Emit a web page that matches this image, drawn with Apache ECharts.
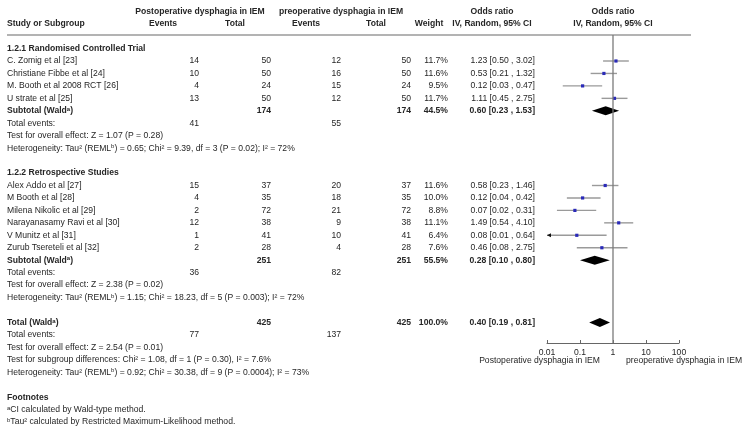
<!DOCTYPE html>
<html>
<head>
<meta charset="utf-8">
<script src="https://cdn.jsdelivr.net/npm/echarts@6/dist/echarts.min.js"></script>
<style>
  html, body { margin: 0; padding: 0; background: #fff; }
  #chart { width: 750px; height: 438px; }
</style>
</head>
<body>
<div id="chart"></div>
<script>
// Randomised controlled trials
const rctStudies = ['C. Zomig et al [23]', 'Christiane Fibbe et al [24]', 'M. Booth et al 2008 RCT [26]', 'U strate et al [25]']
const rctPostEvents = [14, 10, 4, 13]
const rctPostTotal = [50, 50, 24, 50]
const rctPreEvents = [12, 16, 15, 12]
const rctPreTotal = [50, 50, 24, 50]
const rctWeight = ['11.7%', '11.6%', '9.5%', '11.7%']
const rctOR = [1.23, 0.53, 0.12, 1.11]
const rctLow = [0.50, 0.21, 0.03, 0.45]
const rctHigh = [3.02, 1.32, 0.47, 2.75]

// Retrospective studies
const retroStudies = ['Alex Addo et al [27]', 'M Booth et al [28]', 'Milena Nikolic et al [29]', 'Narayanasamy Ravi et al [30]', 'V Munitz et al [31]', 'Zurub Tsereteli et al [32]']
const retroPostEvents = [15, 4, 2, 12, 1, 2]
const retroPostTotal = [37, 35, 72, 38, 41, 28]
const retroPreEvents = [20, 18, 21, 9, 10, 4]
const retroPreTotal = [37, 35, 72, 38, 41, 28]
const retroWeight = ['11.6%', '10.0%', '8.8%', '11.1%', '6.4%', '7.6%']
const retroOR = [0.58, 0.12, 0.07, 1.49, 0.08, 0.46]
const retroLow = [0.23, 0.04, 0.02, 0.54, 0.01, 0.08]
const retroHigh = [1.46, 0.42, 0.31, 4.10, 0.64, 2.75]

// pooled rows: RCT subtotal, retrospective subtotal, overall total
const pooledLabel = ['Subtotal (Wald{sa|a})', 'Subtotal (Wald{sa|a})', 'Total (Wald{sa|a})']
const pooledPostTotal = [174, 251, 425]
const pooledPreTotal = [174, 251, 425]
const pooledWeight = ['44.5%', '55.5%', '100.0%']
const pooledOR = [0.60, 0.28, 0.40]
const pooledLow = [0.23, 0.10, 0.19]
const pooledHigh = [1.53, 0.80, 0.81]
const totalEventsPost = [41, 36, 77]
const totalEventsPre = [55, 82, 137]

const axisTicks = [0.01, 0.1, 1, 10, 100]

// layout: text rows
const Y0 = 11.2
const ROW = 12.45
const rowY = k => Y0 + k * ROW
const FONT = "'Liberation Sans', Arial, sans-serif"
const FS = 8.6
const SUP = 6
const INK = '#262626'
const colX = { study: 7, postEv: 199, postTot: 271, preEv: 341, preTot: 411, weight: 448, or: 535 }

function fmt(v) { return v.toFixed(2) }
function orText(o, l, h) { return `${fmt(o)} [${fmt(l)} , ${fmt(h)}]` }

const texts = []
function txt(x, k, text, align, bold) {
  const w = bold ? 'bold' : 'normal'
  texts.push({
    type: 'text', silent: true,
    style: {
      x, y: rowY(k), text: String(text),
      fontFamily: FONT, fontSize: FS, fontWeight: w, fill: INK,
      align: align || 'left', textAlign: align || 'left',
      verticalAlign: 'middle', textVerticalAlign: 'middle',
      rich: {
        sa: { fontFamily: FONT, fontSize: SUP, fontWeight: w, fill: INK, verticalAlign: 'top' }
      }
    }
  })
}

// headers
txt(200, 0, 'Postoperative dysphagia in IEM', 'center', true)
txt(341, 0, 'preoperative dysphagia in IEM', 'center', true)
txt(492, 0, 'Odds ratio', 'center', true)
txt(613, 0, 'Odds ratio', 'center', true)
txt(colX.study, 1, 'Study or Subgroup', 'left', true)
txt(163, 1, 'Events', 'center', true)
txt(235, 1, 'Total', 'center', true)
txt(306, 1, 'Events', 'center', true)
txt(376, 1, 'Total', 'center', true)
txt(429, 1, 'Weight', 'center', true)
txt(492, 1, 'IV, Random, 95% CI', 'center', true)
txt(613, 1, 'IV, Random, 95% CI', 'center', true)

const forestRows = []
function studyBlock(startK, names, pe, pt, re, rt, wt, or, lo, hi) {
  names.forEach((n, i) => {
    const k = startK + i
    txt(colX.study, k, n)
    txt(colX.postEv, k, pe[i], 'right')
    txt(colX.postTot, k, pt[i], 'right')
    txt(colX.preEv, k, re[i], 'right')
    txt(colX.preTot, k, rt[i], 'right')
    txt(colX.weight, k, wt[i], 'right')
    txt(colX.or, k, orText(or[i], lo[i], hi[i]), 'right')
    forestRows.push([lo[i], hi[i], or[i], k])
  })
}
const pooledRows = []
function pooledBlock(k, j) {
  txt(colX.study, k, pooledLabel[j], 'left', true)
  txt(colX.postTot, k, pooledPostTotal[j], 'right', true)
  txt(colX.preTot, k, pooledPreTotal[j], 'right', true)
  txt(colX.weight, k, pooledWeight[j], 'right', true)
  txt(colX.or, k, orText(pooledOR[j], pooledLow[j], pooledHigh[j]), 'right', true)
  txt(colX.study, k + 1, 'Total events:')
  txt(colX.postEv, k + 1, totalEventsPost[j], 'right')
  txt(colX.preEv, k + 1, totalEventsPre[j], 'right')
  pooledRows.push([pooledLow[j], pooledHigh[j], pooledOR[j], k])
}

txt(colX.study, 3, '1.2.1 Randomised Controlled Trial', 'left', true)
studyBlock(4, rctStudies, rctPostEvents, rctPostTotal, rctPreEvents, rctPreTotal, rctWeight, rctOR, rctLow, rctHigh)
pooledBlock(8, 0)
txt(colX.study, 10, 'Test for overall effect: Z = 1.07 (P = 0.28)')
txt(colX.study, 11, 'Heterogeneity: Tau² (REML{sa|b}) = 0.65; Chi² = 9.39, df = 3 (P = 0.02); I² = 72%')

txt(colX.study, 13, '1.2.2 Retrospective Studies', 'left', true)
studyBlock(14, retroStudies, retroPostEvents, retroPostTotal, retroPreEvents, retroPreTotal, retroWeight, retroOR, retroLow, retroHigh)
pooledBlock(20, 1)
txt(colX.study, 22, 'Test for overall effect: Z = 2.38 (P = 0.02)')
txt(colX.study, 23, 'Heterogeneity: Tau² (REML{sa|b}) = 1.15; Chi² = 18.23, df = 5 (P = 0.003); I² = 72%')

pooledBlock(25, 2)
txt(colX.study, 27, 'Test for overall effect: Z = 2.54 (P = 0.01)')
txt(colX.study, 28, 'Test for subgroup differences: Chi² = 1.08, df = 1 (P = 0.30), I² = 7.6%')
txt(colX.study, 29, 'Heterogeneity: Tau² (REML{sa|b}) = 0.92; Chi² = 30.38, df = 9 (P = 0.0004); I² = 73%')

txt(colX.study, 31, 'Footnotes', 'left', true)
txt(colX.study, 32, '{sa|a}CI calculated by Wald-type method.')
txt(colX.study, 33, '{sa|b}Tau² calculated by Restricted Maximum-Likelihood method.')

// header rule
texts.push({
  type: 'line', silent: true,
  shape: { x1: 7, y1: 35, x2: 691, y2: 35 },
  style: { stroke: '#9a9a9a', lineWidth: 1.5 }
})
// axis side captions
texts.push({
  type: 'text', silent: true,
  style: { x: 600, y: 361, text: 'Postoperative dysphagia in IEM', fontFamily: FONT, fontSize: FS, fill: INK, align: 'right', textAlign: 'right', verticalAlign: 'middle', textVerticalAlign: 'middle' }
})
texts.push({
  type: 'text', silent: true,
  style: { x: 626, y: 361, text: 'preoperative dysphagia in IEM', fontFamily: FONT, fontSize: FS, fill: INK, align: 'left', textAlign: 'left', verticalAlign: 'middle', textVerticalAlign: 'middle' }
})

const GRID_TOP = 35
const GRID_BOTTOM = 343
const X_MIN = axisTicks[0]
const X_MAX = axisTicks[axisTicks.length - 1]

const chart = echarts.init(document.getElementById('chart'), null, { renderer: 'canvas' })
chart.setOption({
  animation: false,
  backgroundColor: '#fff',
  grid: { left: 547, top: GRID_TOP, width: 132, height: GRID_BOTTOM - GRID_TOP, containLabel: false },
  xAxis: {
    type: 'log', logBase: 10, min: X_MIN, max: X_MAX,
    axisLine: { lineStyle: { color: '#666', width: 1 } },
    axisTick: { show: true, inside: true, length: 3, lineStyle: { color: '#666' } },
    axisLabel: { color: INK, fontFamily: FONT, fontSize: FS, margin: 5, formatter: v => String(+(+v).toPrecision(2)) },
    splitLine: { show: false }
  },
  yAxis: {
    type: 'value', inverse: true, show: false,
    min: (GRID_TOP - Y0) / ROW, max: (GRID_BOTTOM - Y0) / ROW
  },
  graphic: texts,
  series: [
    {
      type: 'line', silent: true, symbol: 'none',
      data: [[1, (GRID_TOP - Y0) / ROW], [1, (GRID_BOTTOM - Y0) / ROW]],
      lineStyle: { color: '#7a7a7a', width: 1.3 }
    },
    {
      type: 'custom', silent: true,
      data: forestRows,
      encode: { x: [0, 1, 2], y: 3 },
      renderItem(params, api) {
        const lo = api.value(0), hi = api.value(1), est = api.value(2), k = api.value(3)
        const clipped = lo <= X_MIN
        const a = api.coord([Math.max(lo, X_MIN), k])
        const b = api.coord([Math.min(hi, X_MAX), k])
        const c = api.coord([est, k])
        const children = [
          { type: 'line', shape: { x1: a[0], y1: a[1], x2: b[0], y2: b[1] }, style: { stroke: '#9a9a9a', lineWidth: 1.4 } },
          { type: 'rect', shape: { x: c[0] - 1.6, y: c[1] - 1.6, width: 3.2, height: 3.2 }, style: { fill: '#2a2ab8' } }
        ]
        if (clipped) {
          children.push({ type: 'polygon', shape: { points: [[a[0], a[1]], [a[0] + 4, a[1] - 2], [a[0] + 4, a[1] + 2]] }, style: { fill: '#111' } })
        }
        return { type: 'group', children }
      }
    },
    {
      type: 'custom', silent: true,
      data: pooledRows,
      encode: { x: [0, 1, 2], y: 3 },
      renderItem(params, api) {
        const k = api.value(3)
        const a = api.coord([api.value(0), k])
        const b = api.coord([api.value(1), k])
        const c = api.coord([api.value(2), k])
        return {
          type: 'polygon',
          shape: { points: [[a[0], a[1]], [c[0], c[1] - 4.5], [b[0], b[1]], [c[0], c[1] + 4.5]] },
          style: { fill: '#000' }
        }
      }
    }
  ]
})
</script>
</body>
</html>
